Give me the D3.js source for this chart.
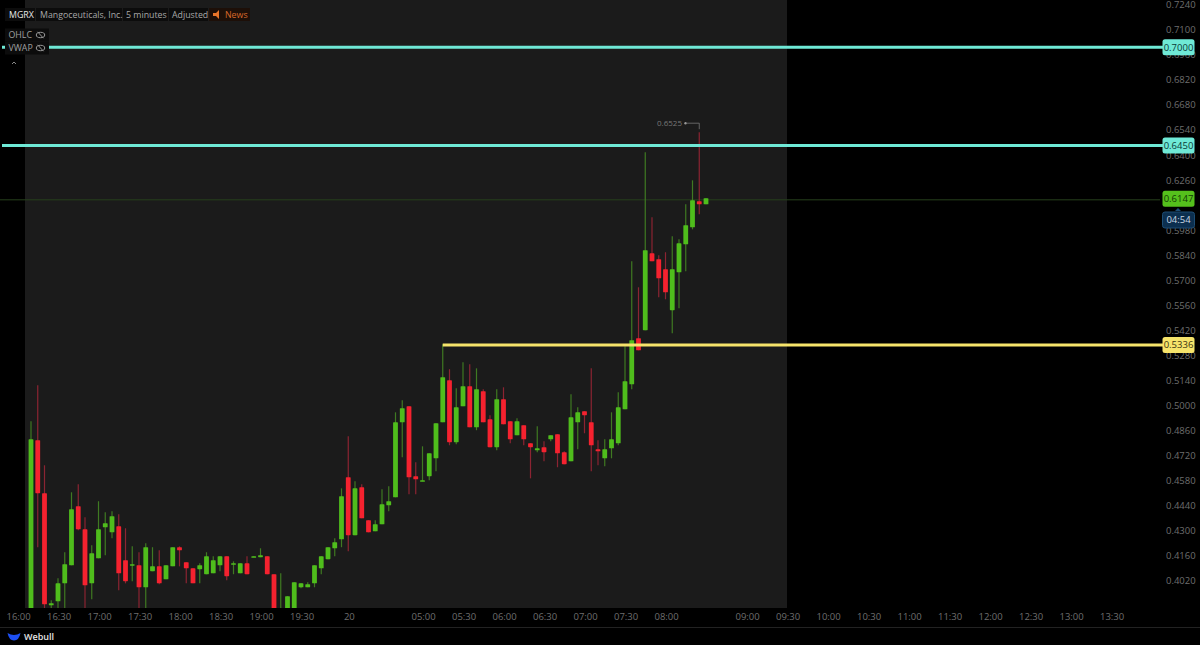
<!DOCTYPE html>
<html><head><meta charset="utf-8">
<script src="https://cdn.jsdelivr.net/npm/d3@7/dist/d3.min.js"></script>
<style>html,body{margin:0;padding:0;background:#000;overflow:hidden}svg{display:block}text{font-family:"Open Sans",sans-serif}</style>
</head><body><svg id="c" width="1200" height="645"></svg>
<script>
const highs=[.4909,.5110,.4663,.3908,.4031,.4177,.4512,.4557,.4372,.4216,.4462,.4400,.4406,.4389,.4311,.4210,.4177,.4227,.4205,.4188,.4104,.4205,.4210,.4121,.4087,.4115,.4177,.4154,.4154,.4154,.4126,.4115,.4154,.4154,.4199,.4154,.4054,.4059,.3931,.4009,.4003,.4009,.4104,.4154,.4205,.4255,.4534,.4825,.4574,.4557,.4356,.4356,.4529,.4546,.4959,.5026,.4993,.4680,.4769,.4730,.4898,.5339,.5200,.5093,.5239,.5228,.5205,.5088,.4943,.5088,.5099,.4909,.4926,.4887,.4786,.4881,.4797,.4831,.4836,.4741,.5060,.4987,.4965,.5205,.4803,.4808,.4959,.5071,.5328,.5803,.5658,.6413,.6049,.5837,.5854,.5943,.5926,.6122,.6256,.6525,.6156];
const opens=[.3800,.4803,.4507,.3880,.3903,.4003,.4104,.4434,.4305,.4003,.4143,.4316,.4288,.4322,.4132,.4104,.4104,.3981,.4071,.4098,.4026,.4098,.4205,.4121,.4087,.4082,.4054,.4059,.4104,.4154,.4110,.4059,.4115,.4149,.4149,.4154,.4054,.3800,.3800,.3800,.3981,.3981,.4003,.4087,.4138,.4199,.4249,.4596,.4272,.4540,.4356,.4294,.4333,.4439,.4484,.4903,.4993,.4602,.4574,.4602,.4702,.4903,.5138,.4792,.4993,.5105,.4875,.5077,.4920,.4764,.5032,.4909,.4831,.4887,.4786,.4747,.4764,.4808,.4836,.4736,.4685,.4903,.4965,.4903,.4752,.4702,.4758,.4786,.4976,.5116,.5373,.5418,.5848,.5815,.5759,.5530,.5742,.5898,.5993,.6139,.6122];
const closes=[.4808,.4507,.3886,.3892,.4003,.4110,.4417,.4305,.3992,.4171,.4305,.4339,.4378,.4059,.4015,.4110,.3981,.4205,.4098,.4003,.4104,.4205,.4188,.4087,.4003,.4104,.4154,.4132,.4154,.4043,.4115,.4115,.4054,.4154,.4160,.4054,.3800,.3830,.3931,.4009,.4003,.3998,.4104,.4154,.4205,.4233,.4490,.4272,.4534,.4367,.4288,.4333,.4445,.4462,.4903,.4982,.4596,.4585,.4579,.4730,.4898,.5155,.4792,.4987,.5105,.4875,.5088,.4903,.4764,.5032,.4892,.4808,.4909,.4808,.4764,.4758,.4736,.4831,.4730,.4669,.4931,.4959,.4943,.4775,.4741,.4752,.4808,.4987,.5133,.5362,.5306,.5865,.5803,.5708,.5630,.5759,.5904,.6005,.6144,.6122,.6156];
const lows=[.3800,.4205,.3800,.3800,.3800,.3800,.4104,.4300,.3800,.3914,.4143,.4160,.4255,.3964,.4003,.4015,.3800,.3800,.4071,.3998,.4026,.4098,.4098,.4003,.4003,.4003,.4054,.4059,.4071,.4020,.4054,.4059,.4054,.4149,.4149,.4054,.3800,.3800,.3800,.3800,.3976,.3981,.3981,.4054,.4138,.4154,.4205,.4182,.4272,.4367,.4288,.4294,.4333,.4406,.4484,.4708,.4501,.4501,.4574,.4579,.4630,.4903,.4775,.4780,.4993,.4875,.4859,.4903,.4764,.4747,.4892,.4786,.4831,.4775,.4590,.4736,.4685,.4797,.4652,.4669,.4685,.4752,.4842,.4630,.4663,.4657,.4702,.4775,.4976,.5088,.5306,.5418,.5803,.5602,.5591,.5401,.5541,.5748,.5982,.6066,.6122];
const priceTicks=[.7240,.7100,.6960,.6820,.6680,.6540,.6400,.6260,.5980,.5840,.5700,.5560,.5420,.5280,.5140,.5000,.4860,.4720,.4580,.4440,.4300,.4160,.4020];
const timeLabels=["16:00","16:30","17:00","17:30","18:00","18:30","19:00","19:30","20","05:00","05:30","06:00","06:30","07:00","07:30","08:00","09:00","09:30","10:00","10:30","11:00","11:30","12:00","12:30","13:00","13:30"];
const timeIndex=[-2,4,10,16,22,28,34,40,47,58,64,70,76,82,88,94,106,112,118,124,130,136,142,148,154,160];
const levelValues=[.7000,.6450];
const supportValue=.5336, supportStart=61;
const lastPrice=.6147, peakValue=.6525, peakIndex=99;

const GREEN="#4fbd1c",RED="#f5222f",GW="#3f7a22",RW="#8c2432",TEAL="#6fe9d6",YEL="#f6e46b";
const svg=d3.select("#c");
const x=d3.scaleLinear().domain([0,100]).range([31,706]);
const y=d3.scaleLinear().domain([.724,.402]).range([4.3,580.3]);
svg.append("rect").attr("width",1200).attr("height",645).attr("fill","#000");
svg.append("rect").attr("x",25).attr("y",0).attr("width",762).attr("height",608).attr("fill","#1b1b1b");
svg.append("defs").append("clipPath").attr("id","pl").append("rect").attr("x",0).attr("y",0).attr("width",1160).attr("height",608);
svg.append("line").attr("x1",0).attr("x2",1160).attr("y1",y(lastPrice)).attr("y2",y(lastPrice)).attr("stroke","#26401c");
const g=svg.append("g").attr("clip-path","url(#pl)");
const idx=d3.range(highs.length);
g.selectAll(".w").data(idx).join("line").attr("x1",i=>x(i)).attr("x2",i=>x(i)).attr("y1",i=>y(highs[i])).attr("y2",i=>y(lows[i]))
 .attr("stroke",i=>closes[i]>=opens[i]?GW:RW).attr("stroke-width",1.2);
g.selectAll(".b").data(idx).join("rect").attr("x",i=>x(i)-2.4).attr("width",4.8)
 .attr("y",i=>y(Math.max(opens[i],closes[i]))).attr("height",i=>Math.max(1.5,Math.abs(y(opens[i])-y(closes[i])))).attr("rx",.6)
 .attr("fill",i=>closes[i]>=opens[i]?GREEN:RED);

svg.selectAll(".lv").data(levelValues).join("line").attr("x1",2).attr("x2",1164).attr("y1",d=>y(d)).attr("y2",d=>y(d)).attr("stroke",TEAL).attr("stroke-width",3);
svg.append("line").attr("x1",x(supportStart)).attr("x2",1164).attr("y1",y(supportValue)).attr("y2",y(supportValue)).attr("stroke",YEL).attr("stroke-width",3);

// price axis
const ay=d3.axisRight(y).tickValues(priceTicks).tickFormat(d3.format(".4f")).tickSize(0).tickPadding(0);
const gy=svg.append("g").attr("transform","translate(1166,0.4)").call(ay);
gy.select(".domain").remove();
gy.selectAll("text").attr("fill","#6e6e6e").attr("font-size",9.5).attr("font-family","'Open Sans',sans-serif");
// time axis
const tick=d3.scaleOrdinal().domain(timeIndex).range(timeLabels);
const ax=d3.axisBottom(x).tickValues(timeIndex).tickFormat(d=>tick(d)).tickSize(0).tickPadding(0);
const gx=svg.append("g").attr("transform","translate(0.6,613)").call(ax);
gx.select(".domain").remove();
gx.selectAll("text").attr("fill","#6e6e6e").attr("font-size",9.5).attr("font-family","'Open Sans',sans-serif");
svg.append("line").attr("x1",0).attr("x2",1200).attr("y1",627.5).attr("y2",627.5).attr("stroke","#222");

// price tags
function tag(v,fill,txt,col,cy,st){
  const yy=cy==null?y(v):cy;
  svg.append("rect").attr("x",1162.5).attr("y",yy-8).attr("width",32).attr("height",16).attr("rx",2.5).attr("fill",fill).attr("stroke",st||"none");
  svg.append("text").attr("x",1178.5).attr("y",yy+3.4).attr("text-anchor","middle").attr("font-size",9.5).attr("fill",col).text(txt);
}
levelValues.forEach(v=>tag(v,TEAL,d3.format(".4f")(v),"#0a3a36"));
tag(supportValue,YEL,d3.format(".4f")(supportValue),"#3a3410");
tag(lastPrice,"#55c01c",d3.format(".4f")(lastPrice),"#123a04",y(lastPrice)-1);
svg.append("path").attr("d","M1175 211 L1178 208 L1181 211 Z").attr("fill","#1d4d74");
tag(null,"#0c2f4f","04:54","#c9d6e2",220,"#1d4d74");

// peak marker
const py=y(peakValue);
svg.append("text").attr("x",657).attr("y",py-6).attr("font-size",8).attr("fill","#777").text(d3.format(".4f")(peakValue));
svg.append("circle").attr("cx",685.5).attr("cy",py-9).attr("r",1.2).attr("fill","#999");
svg.append("path").attr("d",`M686 ${py-9}H${x(peakIndex)}V${py-3}`).attr("fill","none").attr("stroke","#777").attr("stroke-width",.8);

// header widgets
const head=[["MGRX",5,30,9,"#e8e8e8"],["Mangoceuticals, Inc.",36,86,40,"#a8a8a8"],["5 minutes",123,45,126,"#a8a8a8"],["Adjusted",169,39,172,"#a8a8a8"]];
head.forEach(h=>{
  svg.append("rect").attr("x",h[1]).attr("y",8).attr("width",h[2]).attr("height",13).attr("fill","#0c0c0c");
  svg.append("text").attr("x",h[3]).attr("y",18).attr("font-size",8.8).attr("fill",h[4]).text(h[0]);
});
svg.append("rect").attr("x",209).attr("y",8).attr("width",41).attr("height",13).attr("fill","#1d0f08");
svg.append("path").attr("d","M213 13h3l3-3v9l-3-3h-3z").attr("fill","#e8752a");
svg.append("text").attr("x",225).attr("y",18).attr("font-size",8.8).attr("fill","#d9682a").text("News");
[["OHLC",35],["VWAP",48]].forEach(r=>{
  svg.append("rect").attr("x",5).attr("y",r[1]-6.5).attr("width",44).attr("height",13).attr("fill","#0c0c0c");
  svg.append("text").attr("x",8.5).attr("y",r[1]+3.3).attr("font-size",8.8).attr("fill","#a0a0a0").text(r[0]);
  svg.append("ellipse").attr("cx",40.5).attr("cy",r[1]).attr("rx",4.2).attr("ry",2.7).attr("fill","none").attr("stroke","#999");
  svg.append("line").attr("x1",37.5).attr("x2",43.5).attr("y1",r[1]-3.2).attr("y2",r[1]+3.2).attr("stroke","#999");
});
svg.append("path").attr("d","M12 64l2-2 2 2").attr("fill","none").attr("stroke","#888");
// logo
svg.append("path").attr("d","M7.5 633 Q14 637 20.5 633 Q19 640.5 14 640.5 Q9 640.5 7.5 633Z").attr("fill","#1d4ff2");
svg.append("text").attr("x",24).attr("y",640).attr("font-size",9).attr("font-weight",600).attr("fill","#e4e4e4").text("Webull");
</script></body></html>
